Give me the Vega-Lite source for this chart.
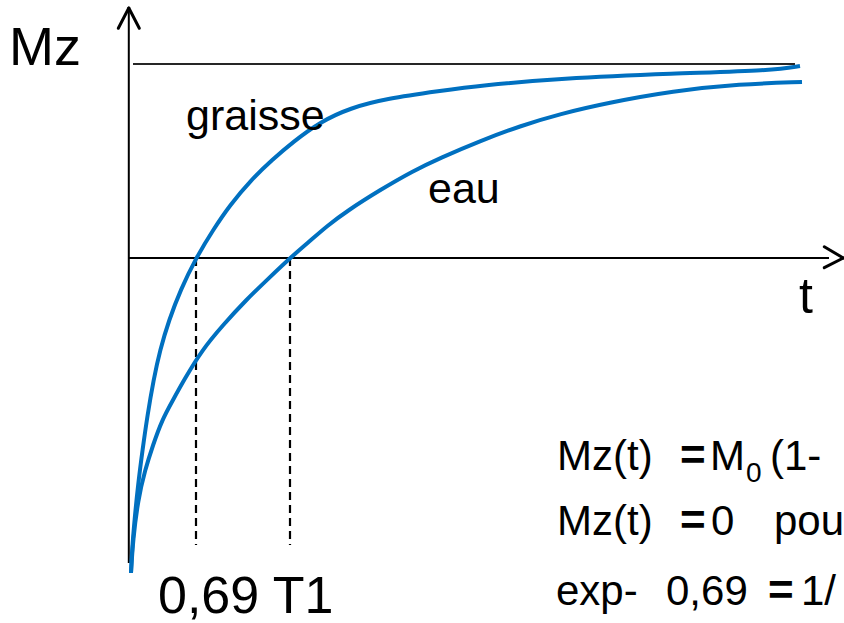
{
  "$schema": "https://vega.github.io/schema/vega-lite/v6.json",
  "width": 844,
  "height": 623,
  "padding": 0,
  "autosize": {"type": "none"},
  "background": "white",
  "config": {"view": {"stroke": null}},
  "datasets": {
    "curves": [
      {"series": "graisse", "t": 2.5, "mz": -1.6237},
      {"series": "graisse", "t": 5, "mz": -1.5052},
      {"series": "graisse", "t": 11.25, "mz": -1.3505},
      {"series": "graisse", "t": 20, "mz": -1.1701},
      {"series": "graisse", "t": 31.25, "mz": -0.9897},
      {"series": "graisse", "t": 43.75, "mz": -0.8093},
      {"series": "graisse", "t": 58.75, "mz": -0.6289},
      {"series": "graisse", "t": 75, "mz": -0.4742},
      {"series": "graisse", "t": 97.5, "mz": -0.3196},
      {"series": "graisse", "t": 126.25, "mz": -0.1649},
      {"series": "graisse", "t": 165, "mz": 0},
      {"series": "graisse", "t": 207.5, "mz": 0.1443},
      {"series": "graisse", "t": 250, "mz": 0.2732},
      {"series": "graisse", "t": 302.5, "mz": 0.4021},
      {"series": "graisse", "t": 355, "mz": 0.5052},
      {"series": "graisse", "t": 407.5, "mz": 0.5979},
      {"series": "graisse", "t": 475, "mz": 0.701},
      {"series": "graisse", "t": 550, "mz": 0.7732},
      {"series": "graisse", "t": 642.5, "mz": 0.8222},
      {"series": "graisse", "t": 775, "mz": 0.8608},
      {"series": "graisse", "t": 875, "mz": 0.8892},
      {"series": "graisse", "t": 1075, "mz": 0.9253},
      {"series": "graisse", "t": 1357.5, "mz": 0.951},
      {"series": "graisse", "t": 1607.5, "mz": 0.9665},
      {"series": "graisse", "t": 1675, "mz": 0.9897},
      {"series": "eau", "t": 2.5, "mz": -1.6237},
      {"series": "eau", "t": 7.5, "mz": -1.4536},
      {"series": "eau", "t": 20, "mz": -1.2474},
      {"series": "eau", "t": 37.5, "mz": -1.0928},
      {"series": "eau", "t": 57.5, "mz": -0.9639},
      {"series": "eau", "t": 80, "mz": -0.8351},
      {"series": "eau", "t": 107.5, "mz": -0.732},
      {"series": "eau", "t": 135, "mz": -0.6289},
      {"series": "eau", "t": 180, "mz": -0.4742},
      {"series": "eau", "t": 232.5, "mz": -0.3454},
      {"series": "eau", "t": 290, "mz": -0.2165},
      {"series": "eau", "t": 347.5, "mz": -0.1031},
      {"series": "eau", "t": 400, "mz": 0},
      {"series": "eau", "t": 450, "mz": 0.0876},
      {"series": "eau", "t": 492.5, "mz": 0.1649},
      {"series": "eau", "t": 542.5, "mz": 0.2423},
      {"series": "eau", "t": 625, "mz": 0.3505},
      {"series": "eau", "t": 707.5, "mz": 0.4485},
      {"series": "eau", "t": 775, "mz": 0.5155},
      {"series": "eau", "t": 875, "mz": 0.6031},
      {"series": "eau", "t": 975, "mz": 0.6804},
      {"series": "eau", "t": 1075, "mz": 0.7423},
      {"series": "eau", "t": 1192.5, "mz": 0.799},
      {"series": "eau", "t": 1357.5, "mz": 0.8608},
      {"series": "eau", "t": 1525, "mz": 0.8969},
      {"series": "eau", "t": 1680, "mz": 0.9072}
    ],
    "segments": [
      {"kind": "axis", "t1": -3, "m1": -1.5722, "t2": -3, "m2": 1.2835},
      {"kind": "axis", "t1": -5, "m1": 0, "t2": 1747.5, "m2": 0},
      {"kind": "arrow", "t1": -29.25, "m1": 1.184, "t2": -3, "m2": 1.2887},
      {"kind": "arrow", "t1": 23.25, "m1": 1.184, "t2": -3, "m2": 1.2887},
      {"kind": "arrow", "t1": 1735.75, "m1": 0.0582, "t2": 1783.25, "m2": 0},
      {"kind": "arrow", "t1": 1735.75, "m1": -0.05, "t2": 1783.25, "m2": 0},
      {"kind": "m0", "t1": 7.5, "m1": 1, "t2": 1662.5, "m2": 1},
      {"kind": "dashed", "t1": 165, "m1": 0, "t2": 165, "m2": -1.4794},
      {"kind": "dashed", "t1": 400, "m1": 0, "t2": 400, "m2": -1.4794}
    ],
    "labels": [
      {"group": "axisY", "label": "Mz", "t": -302.5, "mz": 0.9948},
      {"group": "axisX", "label": "t", "t": 1672.5, "mz": -0.2835},
      {"group": "series", "label": "graisse", "t": 140, "mz": 0.6598},
      {"group": "series", "label": "eau", "t": 745, "mz": 0.2835},
      {"group": "tick", "label": "0,69 T1", "t": 70, "mz": -1.8299},
      {"group": "formula", "label": "Mz(t)", "t": 1067.5, "mz": -1.0928},
      {"group": "eq", "label": "=", "t": 1375, "mz": -1.0928},
      {"group": "formula", "label": "M", "t": 1450, "mz": -1.0928},
      {"group": "sub", "label": "0", "t": 1540, "mz": -1.1546},
      {"group": "formula", "label": "(1-", "t": 1600, "mz": -1.0928},
      {"group": "formula", "label": "Mz(t)", "t": 1067.5, "mz": -1.4278},
      {"group": "eq", "label": "=", "t": 1375, "mz": -1.4278},
      {"group": "formula", "label": "0", "t": 1452.5, "mz": -1.4278},
      {"group": "formula", "label": "pou", "t": 1610, "mz": -1.4278},
      {"group": "formula", "label": "exp-", "t": 1065, "mz": -1.7887},
      {"group": "formula", "label": "0,69", "t": 1340, "mz": -1.7887},
      {"group": "eq", "label": "=", "t": 1595, "mz": -1.7887},
      {"group": "formula", "label": "1/", "t": 1677.5, "mz": -1.7887}
    ]
  },
  "layer": [
    {
      "data": {"name": "segments"},
      "transform": [{"filter": "datum.kind === 'm0'"}],
      "mark": {"type": "rule", "color": "#262626", "strokeWidth": 2},
      "encoding": {
        "x": {"field": "t1", "type": "quantitative", "scale": {"domain": [-325, 1785], "nice": false, "zero": false}, "axis": null},
        "x2": {"field": "t2"},
        "y": {"field": "m1", "type": "quantitative", "scale": {"domain": [-1.88144, 1.3299], "nice": false, "zero": false}, "axis": null},
        "y2": {"field": "m2"}
      }
    },
    {
      "data": {"name": "segments"},
      "transform": [{"filter": "datum.kind === 'dashed'"}],
      "mark": {"type": "rule", "color": "#000000", "strokeWidth": 2.2, "strokeDash": [8, 5]},
      "encoding": {
        "x": {"field": "t1", "type": "quantitative", "scale": {"domain": [-325, 1785], "nice": false, "zero": false}, "axis": null},
        "x2": {"field": "t2"},
        "y": {"field": "m1", "type": "quantitative", "scale": {"domain": [-1.88144, 1.3299], "nice": false, "zero": false}, "axis": null},
        "y2": {"field": "m2"}
      }
    },
    {
      "data": {"name": "segments"},
      "transform": [{"filter": "datum.kind === 'axis'"}],
      "mark": {"type": "rule", "color": "#000000", "strokeWidth": 2},
      "encoding": {
        "x": {"field": "t1", "type": "quantitative", "scale": {"domain": [-325, 1785], "nice": false, "zero": false}, "axis": null},
        "x2": {"field": "t2"},
        "y": {"field": "m1", "type": "quantitative", "scale": {"domain": [-1.88144, 1.3299], "nice": false, "zero": false}, "axis": null},
        "y2": {"field": "m2"}
      }
    },
    {
      "data": {"name": "segments"},
      "transform": [{"filter": "datum.kind === 'arrow'"}],
      "mark": {"type": "rule", "color": "#000000", "strokeWidth": 3, "strokeCap": "round"},
      "encoding": {
        "x": {"field": "t1", "type": "quantitative", "scale": {"domain": [-325, 1785], "nice": false, "zero": false}, "axis": null},
        "x2": {"field": "t2"},
        "y": {"field": "m1", "type": "quantitative", "scale": {"domain": [-1.88144, 1.3299], "nice": false, "zero": false}, "axis": null},
        "y2": {"field": "m2"}
      }
    },
    {
      "data": {"name": "curves"},
      "mark": {"type": "line", "color": "#0070C0", "strokeWidth": 4, "interpolate": "basis"},
      "encoding": {
        "x": {"field": "t", "type": "quantitative", "scale": {"domain": [-325, 1785], "nice": false, "zero": false}, "axis": null},
        "y": {"field": "mz", "type": "quantitative", "scale": {"domain": [-1.88144, 1.3299], "nice": false, "zero": false}, "axis": null},
        "detail": {"field": "series", "type": "nominal"}
      }
    },
    {
      "data": {"name": "labels"},
      "transform": [{"filter": "datum.group === 'axisY'"}],
      "mark": {"type": "text", "align": "left", "baseline": "alphabetic", "font": "Liberation Sans", "fontSize": 54, "color": "#000000"},
      "encoding": {
        "x": {"field": "t", "type": "quantitative", "scale": {"domain": [-325, 1785], "nice": false, "zero": false}, "axis": null},
        "y": {"field": "mz", "type": "quantitative", "scale": {"domain": [-1.88144, 1.3299], "nice": false, "zero": false}, "axis": null},
        "text": {"field": "label"}
      }
    },
    {
      "data": {"name": "labels"},
      "transform": [{"filter": "datum.group === 'axisX'"}],
      "mark": {"type": "text", "align": "left", "baseline": "alphabetic", "font": "Liberation Sans", "fontSize": 50, "color": "#000000"},
      "encoding": {
        "x": {"field": "t", "type": "quantitative", "scale": {"domain": [-325, 1785], "nice": false, "zero": false}, "axis": null},
        "y": {"field": "mz", "type": "quantitative", "scale": {"domain": [-1.88144, 1.3299], "nice": false, "zero": false}, "axis": null},
        "text": {"field": "label"}
      }
    },
    {
      "data": {"name": "labels"},
      "transform": [{"filter": "datum.group === 'series'"}],
      "mark": {"type": "text", "align": "left", "baseline": "alphabetic", "font": "Liberation Sans", "fontSize": 43, "color": "#000000"},
      "encoding": {
        "x": {"field": "t", "type": "quantitative", "scale": {"domain": [-325, 1785], "nice": false, "zero": false}, "axis": null},
        "y": {"field": "mz", "type": "quantitative", "scale": {"domain": [-1.88144, 1.3299], "nice": false, "zero": false}, "axis": null},
        "text": {"field": "label"}
      }
    },
    {
      "data": {"name": "labels"},
      "transform": [{"filter": "datum.group === 'tick'"}],
      "mark": {"type": "text", "align": "left", "baseline": "alphabetic", "font": "Liberation Sans", "fontSize": 52, "color": "#000000"},
      "encoding": {
        "x": {"field": "t", "type": "quantitative", "scale": {"domain": [-325, 1785], "nice": false, "zero": false}, "axis": null},
        "y": {"field": "mz", "type": "quantitative", "scale": {"domain": [-1.88144, 1.3299], "nice": false, "zero": false}, "axis": null},
        "text": {"field": "label"}
      }
    },
    {
      "data": {"name": "labels"},
      "transform": [{"filter": "datum.group === 'formula'"}],
      "mark": {"type": "text", "align": "left", "baseline": "alphabetic", "font": "Liberation Sans", "fontSize": 42, "color": "#000000"},
      "encoding": {
        "x": {"field": "t", "type": "quantitative", "scale": {"domain": [-325, 1785], "nice": false, "zero": false}, "axis": null},
        "y": {"field": "mz", "type": "quantitative", "scale": {"domain": [-1.88144, 1.3299], "nice": false, "zero": false}, "axis": null},
        "text": {"field": "label"}
      }
    },
    {
      "data": {"name": "labels"},
      "transform": [{"filter": "datum.group === 'eq'"}],
      "mark": {"type": "text", "align": "left", "baseline": "alphabetic", "font": "Liberation Sans", "fontSize": 44, "fontWeight": "bold", "color": "#000000"},
      "encoding": {
        "x": {"field": "t", "type": "quantitative", "scale": {"domain": [-325, 1785], "nice": false, "zero": false}, "axis": null},
        "y": {"field": "mz", "type": "quantitative", "scale": {"domain": [-1.88144, 1.3299], "nice": false, "zero": false}, "axis": null},
        "text": {"field": "label"}
      }
    },
    {
      "data": {"name": "labels"},
      "transform": [{"filter": "datum.group === 'sub'"}],
      "mark": {"type": "text", "align": "left", "baseline": "alphabetic", "font": "Liberation Sans", "fontSize": 28, "color": "#000000"},
      "encoding": {
        "x": {"field": "t", "type": "quantitative", "scale": {"domain": [-325, 1785], "nice": false, "zero": false}, "axis": null},
        "y": {"field": "mz", "type": "quantitative", "scale": {"domain": [-1.88144, 1.3299], "nice": false, "zero": false}, "axis": null},
        "text": {"field": "label"}
      }
    }
  ]
}
